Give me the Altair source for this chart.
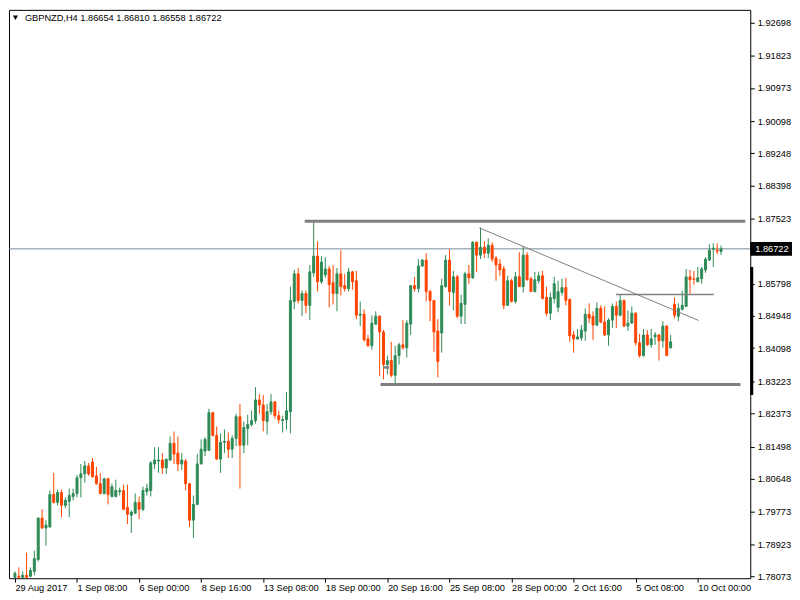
import altair as alt
import pandas as pd
import numpy as np

W, H = 746, 572

# ---------------- data ----------------
tick_idx = [0, 16, 32, 48, 64, 80, 96, 112, 128, 144, 160, 176]
tick_labels = ["29 Aug 2017", "1 Sep 08:00", "6 Sep 00:00", "8 Sep 16:00", "13 Sep 08:00",
               "18 Sep 00:00", "20 Sep 16:00", "25 Sep 08:00", "28 Sep 00:00", "2 Oct 16:00",
               "5 Oct 08:00", "10 Oct 00:00"]
y_ticks = [1.92698, 1.91823, 1.90973, 1.90098, 1.89248, 1.88398, 1.87523, 1.85798, 1.84948,
           1.84098, 1.83223, 1.82373, 1.81498, 1.80648, 1.79773, 1.78923, 1.78073]

opens = [
    1.78047, 1.78073, 1.78047, 1.78099, 1.78073, 1.78203, 1.78515, 1.79608, 1.79348, 1.79374,
    1.80233, 1.80025, 1.80285, 1.79947, 1.80051, 1.80181, 1.80259, 1.80675, 1.80779, 1.80988,
    1.81092, 1.80727, 1.80519, 1.80259, 1.80649, 1.80181, 1.80181, 1.80311, 1.80337, 1.79895,
    1.79686, 1.79739, 1.80025, 1.79843, 1.80311, 1.80337, 1.81040, 1.81118, 1.81144, 1.80936,
    1.81144, 1.81586, 1.81326, 1.81040, 1.81118, 1.80519, 1.79556, 1.79973, 1.81040, 1.81378,
    1.81404, 1.82393, 1.81794, 1.81170, 1.81612, 1.81638, 1.81430, 1.81716, 1.82289, 1.81534,
    1.81977, 1.82081, 1.82185, 1.82731, 1.82601, 1.82159, 1.82419, 1.82679, 1.82315, 1.82185,
    1.82211, 1.82419, 1.85333, 1.86062, 1.85359, 1.85542, 1.85229, 1.86088, 1.86531, 1.85854,
    1.86036, 1.86192, 1.85828, 1.85542, 1.86062, 1.85750, 1.85672, 1.86114, 1.85880, 1.84969,
    1.84995, 1.84345, 1.84162, 1.84735, 1.84943, 1.84527, 1.83668, 1.83772, 1.83382, 1.83902,
    1.84188, 1.84110, 1.84735, 1.85750, 1.85672, 1.86270, 1.86426, 1.85594, 1.85359, 1.84553,
    1.84501, 1.85724, 1.86426, 1.85568, 1.85984, 1.84943, 1.85255, 1.86062, 1.85958, 1.86895,
    1.86557, 1.86765, 1.86609, 1.86817, 1.86478, 1.86322, 1.86192, 1.85229, 1.85880, 1.85333,
    1.85984, 1.85724, 1.86557, 1.85932, 1.85594, 1.85880, 1.86010, 1.85438, 1.85021, 1.85411,
    1.85177, 1.85568, 1.85698, 1.85386, 1.84449, 1.84345, 1.84371, 1.84553, 1.84995, 1.84943,
    1.84709, 1.85151, 1.84787, 1.84449, 1.84839, 1.85203, 1.84969, 1.85359, 1.84683, 1.84761,
    1.85021, 1.84241, 1.83902, 1.84449, 1.84188, 1.84397, 1.84449, 1.84293, 1.84683, 1.84110,
    1.85255, 1.84943, 1.85125, 1.85203, 1.85984, 1.85932, 1.85854, 1.85932, 1.86166, 1.86426,
    1.86713, 1.86687, 1.86654]

highs = [
    1.78203, 1.78307, 1.78203, 1.78698, 1.78307, 1.78750, 1.79634, 1.79843, 1.79556, 1.80337,
    1.80805, 1.80363, 1.80363, 1.80155, 1.80389, 1.80389, 1.80753, 1.81040, 1.81118, 1.81066,
    1.81196, 1.80962, 1.80805, 1.80675, 1.80675, 1.80519, 1.80623, 1.80415, 1.80493, 1.80493,
    1.79817, 1.80259, 1.80181, 1.80441, 1.80519, 1.81118, 1.81482, 1.81482, 1.81326, 1.81170,
    1.81768, 1.81898, 1.81768, 1.81326, 1.81170, 1.80530, 1.80207, 1.81300, 1.81690, 1.81742,
    1.82497, 1.82419, 1.82029, 1.81846, 1.81950, 1.81872, 1.81794, 1.82367, 1.82627, 1.82159,
    1.82341, 1.82445, 1.83069, 1.82887, 1.82861, 1.82627, 1.82887, 1.82705, 1.82445, 1.82315,
    1.82939, 1.85724, 1.86166, 1.86218, 1.85620, 1.85620, 1.86296, 1.87415, 1.86921, 1.86531,
    1.86505, 1.86270, 1.86296, 1.86218, 1.86687, 1.86062, 1.86218, 1.86140, 1.86140, 1.85333,
    1.85125, 1.84449, 1.84969, 1.85073, 1.84969, 1.84579, 1.83902, 1.84267, 1.84162, 1.84241,
    1.84839, 1.84839, 1.85760, 1.85984, 1.86452, 1.86452, 1.86609, 1.85646, 1.85370, 1.84865,
    1.85932, 1.86557, 1.86713, 1.86140, 1.86036, 1.85516, 1.86114, 1.86296, 1.86921, 1.86921,
    1.87285, 1.86921, 1.86999, 1.86895, 1.86531, 1.86452, 1.86270, 1.86010, 1.85932, 1.86114,
    1.86635, 1.86791, 1.86635, 1.85984, 1.86114, 1.86114, 1.86140, 1.85724, 1.85568, 1.85984,
    1.85880, 1.85932, 1.85958, 1.85411, 1.84553, 1.84605, 1.84709, 1.85151, 1.85281, 1.85073,
    1.85307, 1.85229, 1.85203, 1.84891, 1.85281, 1.85333, 1.85516, 1.85386, 1.85099, 1.85203,
    1.85047, 1.84475, 1.84605, 1.84579, 1.84605, 1.84527, 1.84459, 1.84813, 1.84709, 1.84449,
    1.85438, 1.85281, 1.85620, 1.86192, 1.86166, 1.86140, 1.86244, 1.86244, 1.86505, 1.86843,
    1.86869, 1.86869, 1.86810]

lows = [
    1.78021, 1.78021, 1.78021, 1.78021, 1.78047, 1.78099, 1.78463, 1.79322, 1.78880, 1.79360,
    1.79999, 1.79947, 1.79634, 1.79869, 1.79634, 1.80077, 1.80155, 1.80155, 1.80545, 1.80727,
    1.80675, 1.80493, 1.80233, 1.80233, 1.79973, 1.80155, 1.80155, 1.80207, 1.79817, 1.79452,
    1.79218, 1.79725, 1.79582, 1.79791, 1.80207, 1.80181, 1.80910, 1.80805, 1.80779, 1.80779,
    1.81118, 1.81040, 1.80858, 1.80884, 1.80337, 1.79374, 1.79088, 1.79947, 1.81030, 1.81248,
    1.81378, 1.81768, 1.81144, 1.80805, 1.81326, 1.81196, 1.81196, 1.81508, 1.80389, 1.81326,
    1.81534, 1.82029, 1.82107, 1.82367, 1.81898, 1.81820, 1.82341, 1.82237, 1.82107, 1.81872,
    1.81950, 1.81846, 1.85125, 1.85281, 1.84943, 1.85021, 1.84839, 1.85984, 1.85594, 1.85802,
    1.85958, 1.85177, 1.85255, 1.85073, 1.85490, 1.85594, 1.85594, 1.85646, 1.84865, 1.84683,
    1.84267, 1.84136, 1.84058, 1.84709, 1.83356, 1.83278, 1.83408, 1.83330, 1.83148, 1.83668,
    1.84058, 1.83850, 1.84449, 1.85594, 1.85568, 1.86244, 1.85333, 1.84813, 1.84006, 1.83330,
    1.83980, 1.85698, 1.85229, 1.85099, 1.84891, 1.84735, 1.84735, 1.85802, 1.85932, 1.86114,
    1.86452, 1.86478, 1.86478, 1.86374, 1.85880, 1.86010, 1.85125, 1.85220, 1.85307, 1.85281,
    1.85715, 1.85568, 1.85880, 1.85585, 1.85568, 1.85802, 1.85386, 1.84943, 1.84839, 1.85281,
    1.85047, 1.85490, 1.85229, 1.84267, 1.83980, 1.84319, 1.84293, 1.84293, 1.84761, 1.84319,
    1.84683, 1.84761, 1.84423, 1.84162, 1.84631, 1.84631, 1.84943, 1.84657, 1.84553, 1.84735,
    1.84162, 1.83850, 1.83876, 1.84162, 1.84110, 1.84188, 1.83772, 1.84110, 1.83890, 1.84084,
    1.84891, 1.84813, 1.85099, 1.85190, 1.85542, 1.85776, 1.85845, 1.85802, 1.86088, 1.86399,
    1.86244, 1.86581, 1.86558]

closes = [
    1.78151, 1.78047, 1.78099, 1.78047, 1.78229, 1.78541, 1.79608, 1.79348, 1.79426, 1.80233,
    1.80025, 1.80285, 1.79947, 1.80077, 1.80207, 1.80259, 1.80675, 1.80779, 1.80988, 1.80779,
    1.80701, 1.80519, 1.80259, 1.80649, 1.80233, 1.80441, 1.80337, 1.80337, 1.79843, 1.79712,
    1.79765, 1.80025, 1.79843, 1.80337, 1.80389, 1.81066, 1.81144, 1.81144, 1.80936, 1.81170,
    1.81586, 1.81300, 1.81040, 1.81144, 1.80519, 1.79556, 1.79973, 1.81040, 1.81430, 1.81690,
    1.82393, 1.81794, 1.81170, 1.81612, 1.81638, 1.81430, 1.81716, 1.82289, 1.81534, 1.82003,
    1.82081, 1.82185, 1.82731, 1.82601, 1.82185, 1.82419, 1.82679, 1.82315, 1.82211, 1.82211,
    1.82445, 1.85359, 1.86062, 1.85359, 1.85542, 1.85229, 1.86114, 1.86531, 1.85854, 1.86374,
    1.86192, 1.85776, 1.85542, 1.86062, 1.85724, 1.85672, 1.86114, 1.85854, 1.84969, 1.84995,
    1.84319, 1.84162, 1.84761, 1.84943, 1.84527, 1.83668, 1.83772, 1.83382, 1.83902, 1.84188,
    1.84110, 1.84761, 1.85750, 1.85672, 1.86270, 1.86426, 1.85594, 1.85359, 1.84527, 1.83746,
    1.85750, 1.86426, 1.85594, 1.85984, 1.84943, 1.85281, 1.86062, 1.85958, 1.86895, 1.86557,
    1.86765, 1.86609, 1.86817, 1.86452, 1.86296, 1.86166, 1.85229, 1.85880, 1.85333, 1.85984,
    1.85724, 1.86557, 1.85906, 1.85594, 1.85906, 1.86010, 1.85411, 1.85021, 1.85438, 1.85802,
    1.85594, 1.85698, 1.85359, 1.84423, 1.84345, 1.84397, 1.84579, 1.84995, 1.84891, 1.84709,
    1.85151, 1.84787, 1.84449, 1.84839, 1.85203, 1.84969, 1.85359, 1.84683, 1.84761, 1.85021,
    1.84241, 1.83902, 1.84449, 1.84188, 1.84345, 1.84449, 1.84293, 1.84683, 1.83902, 1.84267,
    1.84969, 1.85151, 1.85229, 1.85984, 1.85906, 1.85920, 1.85958, 1.86192, 1.86452, 1.86687,
    1.86739, 1.86661, 1.86722]

# drawn objects: (bar index start, bar index end, price start, price end, width)
obj_x1 = [74.7, 94.25, 119.7, 154.9, 94.9]
obj_x2 = [188.25, 187.0, 176.2, 180.1, 96.4]
obj_y1 = [1.87449, 1.83140, 1.87277, 1.85516, 1.83590]
obj_y2 = [1.87449, 1.83140, 1.84831, 1.85516, 1.83590]
obj_w = [3, 3, 1, 1.5, 2.5]

bid_price = [1.86722]
axis_bar_top = [1.86244]
axis_bar_bottom = [1.82861]
header = "GBPNZD,H4  1.86654 1.86810 1.86558 1.86722"

# ---------------- chart ----------------
df = pd.DataFrame({"idx": np.arange(len(opens)), "o": opens, "h": highs, "l": lows, "c": closes})
df["dir"] = np.where(df["c"] >= df["o"], "up", "down")

FONT = "Liberation Sans"
FS = 9.3

label_arr = "[" + ",".join("'" + s + "'" for s in tick_labels) + "]"
xscale = alt.Scale(domain=[-0.25, 188.25], nice=False, zero=False)
yscale = alt.Scale(domain=[1.78021, 1.93036], nice=False, zero=False)
xaxis = alt.Axis(values=tick_idx, labelExpr=label_arr + "[round(datum.value/16)]", title=None,
                 grid=False, domain=False, tickSize=4, labelAlign="left", labelPadding=1,
                 labelFlush=False, labelOverlap=False, labelBound=False)
yaxis = alt.Axis(orient="right", values=y_ticks, format=".5f", title=None, grid=False,
                 domain=False, tickSize=4, labelPadding=3, labelAlign="left",
                 labelBaseline="middle", labelOverlap=False, labelFlush=False, labelBound=False)
cscale = alt.Scale(domain=["up", "down"], range=["#2E8B57", "#FF4500"])

base = alt.Chart(df)
wicks = base.mark_rule(strokeWidth=1).encode(
    x=alt.X("idx:Q", scale=xscale, axis=xaxis),
    y=alt.Y("l:Q", scale=yscale, axis=yaxis),
    y2="h:Q",
    color=alt.Color("dir:N", scale=cscale, legend=None),
)
bodies = base.mark_bar(size=2, strokeWidth=1).encode(
    x=alt.X("idx:Q", scale=xscale, axis=xaxis),
    y=alt.Y("o:Q", scale=yscale, axis=yaxis),
    y2="c:Q",
    fill=alt.Fill("dir:N", scale=cscale, legend=None),
    stroke=alt.Stroke("dir:N", scale=cscale, legend=None),
)

objs = pd.DataFrame({"x1": obj_x1, "x2": obj_x2, "y1": obj_y1, "y2": obj_y2, "w": obj_w})
obj_layer = alt.Chart(objs).mark_rule(color="#808080").encode(
    x=alt.X("x1:Q", scale=xscale, axis=xaxis),
    x2="x2:Q",
    y=alt.Y("y1:Q", scale=yscale, axis=yaxis),
    y2="y2:Q",
    strokeWidth=alt.StrokeWidth("w:Q", scale=None),
)

bid_df = pd.DataFrame({"p": bid_price, "t": ["%.5f" % bid_price[0]]})
bid_line = alt.Chart(bid_df).mark_rule(color="#778899", strokeWidth=1).encode(
    y=alt.Y("p:Q", scale=yscale, axis=yaxis)
)
tag_box = alt.Chart(bid_df).mark_point(
    shape="M-1,-0.333L1,-0.333L1,0.333L-1,0.333Z", size=1764, filled=True,
    color="black", opacity=1, strokeWidth=0
).encode(x=alt.value(W + 21), y=alt.Y("p:Q", scale=yscale, axis=yaxis))
tag_text = alt.Chart(bid_df).mark_text(
    align="left", baseline="middle", color="white", font=FONT, fontSize=FS
).encode(x=alt.value(W + 5), y=alt.Y("p:Q", scale=yscale, axis=yaxis), text="t:N")

ab_df = pd.DataFrame({"a": axis_bar_top, "b": axis_bar_bottom})
axis_bar = alt.Chart(ab_df).mark_rule(color="black", strokeWidth=3).encode(
    x=alt.value(W + 1.5), y=alt.Y("a:Q", scale=yscale, axis=yaxis), y2="b:Q"
)

hdr_df = pd.DataFrame({"t": [header]})
hdr_tri = alt.Chart(hdr_df).mark_point(shape="triangle-down", size=26, filled=True,
                                       color="black", opacity=1).encode(
    x=alt.value(6.5), y=alt.value(8))
hdr_text = alt.Chart(hdr_df).mark_text(align="left", baseline="middle", color="black",
                                       font=FONT, fontSize=FS).encode(
    x=alt.value(16), y=alt.value(8.5), text="t:N")

chart = alt.layer(
    bid_line, wicks, bodies, obj_layer, axis_bar, tag_box, tag_text, hdr_tri, hdr_text
).properties(
    width=W, height=H, padding=0, background="white"
).configure_view(
    stroke="black", strokeWidth=1
).configure_axis(
    labelFont=FONT, labelFontSize=FS, labelColor="black", tickColor="black", tickWidth=1
)

chart.save("out.html", embed_options={"renderer": "svg", "actions": False})
